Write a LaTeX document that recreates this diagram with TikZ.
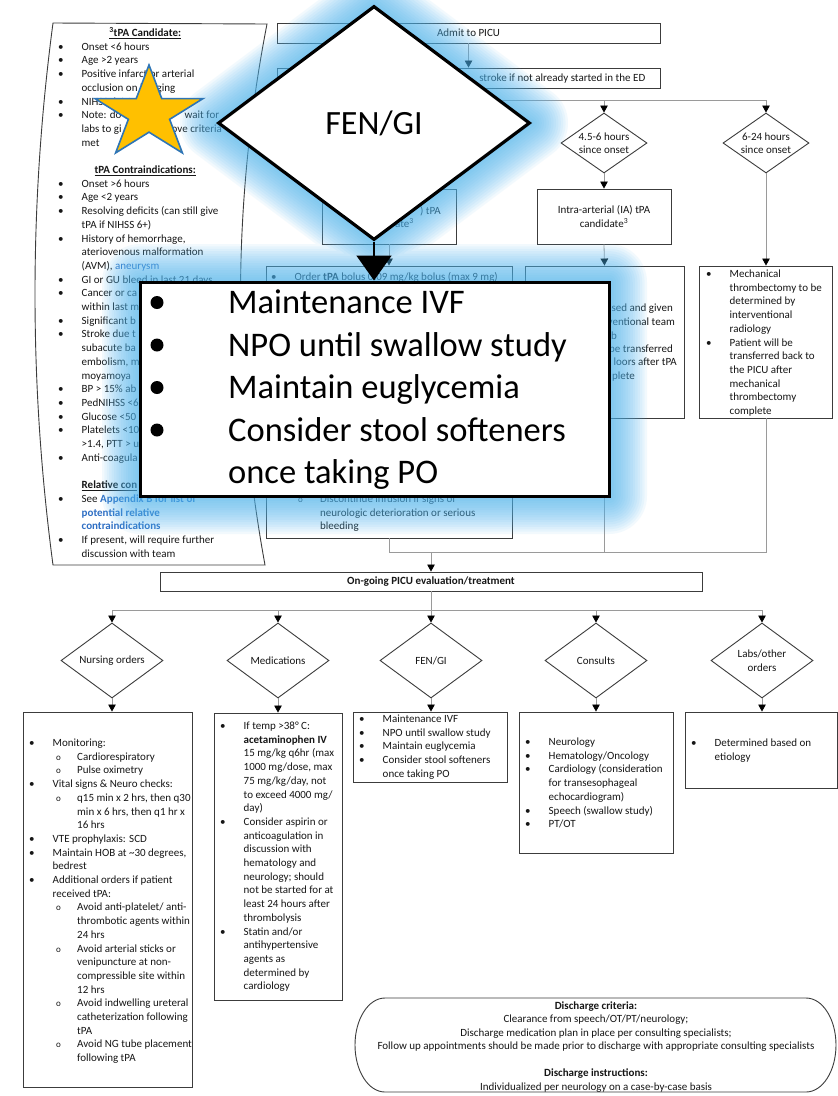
\documentclass[tikz,border=0pt]{standalone}
\usepackage{fontspec}
\setmainfont{Carlito}
\usetikzlibrary{arrows.meta,shapes.geometric}

\definecolor{boxline}{HTML}{3C3C3C}
\definecolor{linkgray}{HTML}{9A9A9A}
\definecolor{inktext}{HTML}{161616}
\definecolor{linkblue}{HTML}{2F6FC4}
\definecolor{glowblue}{RGB}{80,182,240}
\definecolor{staryellow}{HTML}{FFC000}
\definecolor{starblue}{HTML}{2E75B6}

% bullet list helpers (one tabular row per printed line)
\newlength\bgap
\setlength\bgap{23.5pt}
\newcommand\bitem[1]{\makebox[\bgap][l]{\textbullet}#1}
\newcommand\bcont[1]{\hspace*{\bgap}#1}
\newcommand\sitem[1]{\hspace*{27pt}\makebox[21pt][l]{\fontsize{9}{9}\selectfont o}#1}
\newcommand\scont[1]{\hspace*{48pt}#1}
\newcommand\txtlines[1]{\begin{tabular}[t]{@{}l@{}}#1\end{tabular}}

\tikzset{
  box/.style={draw=boxline, line width=0.9pt, fill=white, rectangle, inner sep=0pt,
              font=\fontsize{11}{13.5}\selectfont, text=inktext, align=center},
  choice/.style={draw=boxline, line width=0.9pt, fill=white, diamond, inner sep=0pt,
              font=\fontsize{11}{13.5}\selectfont, text=inktext, align=center},
  txt/.style={inner sep=0pt, anchor=base west, font=\fontsize{11}{13.7}\selectfont, text=inktext},
  conn/.style={draw=linkgray, line width=0.8pt},
  arr/.style={conn, -{Triangle[width=7.5pt,length=7pt,color=black]}},
}

\begin{document}
\begin{tikzpicture}[x=1pt,y=-1pt]
\useasboundingbox (0,0) rectangle (838,1096);
\fill[white] (0,0) rectangle (838,1096);

% ---------- side panel: tPA criteria ----------
\draw[draw=boxline, line width=0.9pt] (53,23) -- (267,24)
  .. controls (232,204) and (232,384) .. (265,565) -- (53,565)
  .. controls (29,384) and (29,204) .. (53,23) -- cycle;
\node[txt] (criteria) at (58,36.5) {\txtlines{%
\makebox[174pt]{\textbf{\underline{\textsuperscript{3}tPA Candidate:}}}\\
\bitem{Onset <6 hours}\\
\bitem{Age >2 years}\\
\bitem{Positive infarct or arterial}\\
\bcont{occlusion on imaging}\\
\bitem{NIHSS 6-24}\\
\bitem{\makebox[103pt][l]{Note: do}wait for}\\
\bcont{\makebox[90pt][l]{labs to gi}ove criteria}\\
\bcont{met}\\
\\
\makebox[174pt]{\textbf{\underline{tPA Contraindications:}}}\\
\bitem{Onset >6 hours}\\
\bitem{Age <2 years}\\
\bitem{Resolving deficits (can still give}\\
\bcont{tPA if NIHSS 6+)}\\
\bitem{History of hemorrhage,}\\
\bcont{ateriovenous malformation}\\
\bcont{(AVM), \textcolor{linkblue}{aneurysm}}\\
\bitem{GI or GU bleed in last 21 days}\\
\bitem{Cancer or ca}\\
\bcont{within last m}\\
\bitem{Significant b}\\
\bitem{Stroke due t}\\
\bcont{subacute ba}\\
\bcont{embolism, m}\\
\bcont{moyamoya}\\
\bitem{BP > 15\% ab}\\
\bitem{PedNIHSS <6}\\
\bitem{Glucose <50}\\
\bitem{Platelets <10}\\
\bcont{>1.4, PTT > u}\\
\bitem{Anti-coagula}\\
\\
\bcont{\textbf{\underline{Relative con}}}\\
\bitem{See \textcolor{linkblue}{\textbf{Appendix B for list of}}}\\
\bcont{\textcolor{linkblue}{\textbf{potential relative}}}\\
\bcont{\textcolor{linkblue}{\textbf{contraindications}}}\\
\bitem{If present, will require further}\\
\bcont{discussion with team}}};

% ---------- admission and time branches ----------
\node[box, minimum width=383pt, minimum height=20pt] (admit) at (468.5,33) {Admit to PICU};
\node[box, minimum width=383pt, minimum height=20pt] (ed) at (468.5,78) {};
\node[txt, anchor=base east] (edtext) at (645.5,81.5) {stroke if not already started in the ED};

\node[choice, minimum width=86pt, minimum height=60pt, aspect=1.43] (d45) at (604,143) {4.5-6 hours\\since onset};
\node[choice, minimum width=86pt, minimum height=60pt, aspect=1.43] (d624) at (766,143) {6-24 hours\\since onset};

\node[box, minimum width=134pt, minimum height=55pt] (ivcand) at (389,216.5) {};
\node[txt, anchor=base east] (ivcandA) at (441,214) {) tPA};
\node[txt, anchor=base east] (ivcandB) at (414,227.5) {ate\textsuperscript{3}};
\node[box, minimum width=134pt, minimum height=55pt] (iacand) at (604,216.5) {Intra-arterial (IA) tPA\\candidate\textsuperscript{3}};

\node[box, minimum width=246pt, minimum height=272pt] (ivdet) at (389,402) {};
\node[txt] (ivtop) at (271,280.5) {\bitem{Order \textbf{tPA} bolus 0.09 mg/kg bolus (max 9 mg)}};
\node[txt] (ivbottom) at (298,502.5) {\txtlines{%
\makebox[22pt][l]{\fontsize{9}{9}\selectfont o}Discontinue infusion if signs of\\
\hspace*{22pt}neurologic deterioration or serious\\
\hspace*{22pt}bleeding}};

\node[box, minimum width=159pt, minimum height=152pt] (iadet) at (604.5,342) {};
\node[txt, anchor=base east] (ia1) at (673,311.5) {sed and given};
\node[txt, anchor=base east] (ia2) at (675,325.5) {rventional team};
\node[txt, anchor=base east] (ia3) at (617,339.5) {ab};
\node[txt, anchor=base east] (ia4) at (673,352.5) {be transferred};
\node[txt, anchor=base east] (ia5) at (677,365.5) {loors after tPA};
\node[txt, anchor=base east] (ia6) at (635,379.5) {plete};

\node[box, minimum width=133pt, minimum height=152pt] (thromb) at (766,342) {};
\node[txt] (thrombtext) at (706,277.5) {\txtlines{%
\bitem{Mechanical}\\
\bcont{thrombectomy to be}\\
\bcont{determined by}\\
\bcont{interventional}\\
\bcont{radiology}\\
\bitem{Patient will be}\\
\bcont{transferred back to}\\
\bcont{the PICU after}\\
\bcont{mechanical}\\
\bcont{thrombectomy}\\
\bcont{complete}}};

\coordinate (s1) at (468.5,100);
\draw[arr] (admit.south) -- (ed.north);
\draw[conn] (ed.south) -- (s1) -- (d624.north |- s1);
\draw[arr] (d45.north |- s1) -- (d45.north);
\draw[arr] (d624.north |- s1) -- (d624.north);
\draw[arr] (d45.south) -- (iacand.north);
\draw[arr] (iacand.south) -- (iadet.north);
\draw[arr] (d624.south) -- (thromb.north);
\draw[arr] (ivcand.south) -- (ivdet.north);

% ---------- ongoing care ----------
\node[box, minimum width=542pt, minimum height=19pt, font=\fontsize{11}{13.5}\selectfont\bfseries] (ongoing) at (431,581.5) {On-going PICU evaluation/treatment};
\coordinate (m1) at (431,552);
\draw[conn] (ivdet.south) |- (thromb.south |- m1) -- (thromb.south);
\draw[conn] (iadet.south) -- (iadet.south |- m1);
\draw[arr] (m1) -- (ongoing.north);

\node[choice, minimum width=102pt, minimum height=75pt, aspect=1.36] (dnurse) at (112,660.5) {Nursing orders};
\node[choice, minimum width=102pt, minimum height=75pt, aspect=1.36] (dmeds) at (278,660.5) {Medications};
\node[choice, minimum width=102pt, minimum height=75pt, aspect=1.36] (dfen) at (431,660.5) {FEN/GI};
\node[choice, minimum width=102pt, minimum height=75pt, aspect=1.36] (dcons) at (596,660.5) {Consults};
\node[choice, minimum width=102pt, minimum height=75pt, aspect=1.36] (dlabs) at (762,660.5) {Labs/other\\orders};

\coordinate (s2) at (431,610);
\draw[conn] (ongoing.south) -- (s2);
\draw[conn] (dnurse.north |- s2) -- (dlabs.north |- s2);
\foreach \d in {dnurse,dmeds,dfen,dcons,dlabs}
  \draw[arr] (\d.north |- s2) -- (\d.north);

\node[box, minimum width=169pt, minimum height=375pt] (nurse) at (107.5,899.5) {};
\node[box, minimum width=128pt, minimum height=287pt] (meds) at (278,856.5) {};
\node[box, minimum width=154pt, minimum height=70pt] (fen) at (430,747) {};
\node[box, minimum width=154pt, minimum height=141pt] (cons) at (596,782.5) {};
\node[box, minimum width=152pt, minimum height=76pt] (labs) at (761,750) {};

\draw[arr] (dnurse.south) -- (dnurse.south |- nurse.north);
\draw[arr] (dmeds.south) -- (dmeds.south |- meds.north);
\draw[arr] (dfen.south) -- (dfen.south |- fen.north);
\draw[arr] (dcons.south) -- (dcons.south |- cons.north);
\draw[arr] (dlabs.south) -- (dlabs.south |- labs.north);

\node[txt] (nursetext) at (29,746.5) {\txtlines{%
\bitem{Monitoring:}\\
\sitem{Cardiorespiratory}\\
\sitem{Pulse oximetry}\\
\bitem{Vital signs \& Neuro checks:}\\
\sitem{q15 min x 2 hrs, then q30}\\
\scont{min x 6 hrs, then q1 hr x}\\
\scont{16 hrs}\\
\bitem{VTE prophylaxis: SCD}\\
\bitem{Maintain HOB at \textasciitilde30 degrees,}\\
\bcont{bedrest}\\
\bitem{Additional orders if patient}\\
\bcont{received tPA:}\\
\sitem{Avoid anti-platelet/ anti-}\\
\scont{thrombotic agents within}\\
\scont{24 hrs}\\
\sitem{Avoid arterial sticks or}\\
\scont{venipuncture at non-}\\
\scont{compressible site within}\\
\scont{12 hrs}\\
\sitem{Avoid indwelling ureteral}\\
\scont{catheterization following}\\
\scont{tPA}\\
\sitem{Avoid NG tube placement}\\
\scont{following tPA}}};

\node[txt] (medstext) at (220,729.5) {\txtlines{%
\bitem{If temp >38° C:}\\
\bcont{\textbf{acetaminophen IV}}\\
\bcont{15 mg/kg q6hr (max}\\
\bcont{1000 mg/dose, max}\\
\bcont{75 mg/kg/day, not}\\
\bcont{to exceed 4000 mg/}\\
\bcont{day)}\\
\bitem{Consider aspirin or}\\
\bcont{anticoagulation in}\\
\bcont{discussion with}\\
\bcont{hematology and}\\
\bcont{neurology; should}\\
\bcont{not be started for at}\\
\bcont{least 24 hours after}\\
\bcont{thrombolysis}\\
\bitem{Statin and/or}\\
\bcont{antihypertensive}\\
\bcont{agents as}\\
\bcont{determined by}\\
\bcont{cardiology}}};

\node[txt] (fentext) at (359,722.5) {\txtlines{%
\bitem{Maintenance IVF}\\
\bitem{NPO until swallow study}\\
\bitem{Maintain euglycemia}\\
\bitem{Consider stool softeners}\\
\bcont{once taking PO}}};

\node[txt] (constext) at (525,745.5) {\txtlines{%
\bitem{Neurology}\\
\bitem{Hematology/Oncology}\\
\bitem{Cardiology (consideration}\\
\bcont{for transesophageal}\\
\bcont{echocardiogram)}\\
\bitem{Speech (swallow study)}\\
\bitem{PT/OT}}};

\node[txt] (labstext) at (691,746.5) {\txtlines{%
\bitem{Determined based on}\\
\bcont{etiology}}};

% ---------- discharge terminator ----------
\draw[draw=boxline, line width=0.9pt] (385,998) -- (806,998)
  .. controls (822.6,998) and (836,1019) .. (836,1045)
  .. controls (836,1071) and (822.6,1092) .. (806,1092) -- (385,1092)
  .. controls (368.4,1092) and (355,1071) .. (355,1045)
  .. controls (355,1019) and (368.4,998) .. (385,998) -- cycle;
\node[inner sep=0pt, anchor=base, font=\fontsize{11}{13.45}\selectfont, text=inktext] (dischtext) at (596,1009.5)
  {\begin{tabular}[t]{@{}c@{}}
  \textbf{Discharge criteria:}\\
  Clearance from speech/OT/PT/neurology;\\
  Discharge medication plan in place per consulting specialists;\\
  Follow up appointments should be made prior to discharge with appropriate consulting specialists\\
  \\
  \textbf{Discharge instructions:}\\
  Individualized per neurology on a case-by-case basis
  \end{tabular}};

% ---------- highlighted FEN/GI callout ----------
\foreach \k in {1,...,16}
  \draw[glowblue, line width=\k*4.75pt, draw opacity=0.07, line join=round]
    (374,6) -- (530,123) -- (374,240) -- (218,123) -- cycle
    (140,282) rectangle (609,496);

\node[choice, draw=black, line width=3.2pt, minimum width=312pt, minimum height=234pt, aspect=1.33,
      font=\fontsize{34}{40}\selectfont, text=black] (bigdia) at (374,123) {FEN/GI};
\node[draw=black, line width=3pt, fill=white, minimum width=469pt, minimum height=214pt, inner sep=0pt] (callout) at (374.5,389) {};
\draw[black, line width=1.8pt, -{Triangle[width=35pt,length=25pt]}] (bigdia.south) -- (bigdia.south |- callout.north);

\node[inner sep=0pt, anchor=base west, font=\fontsize{34.5}{42.5}\selectfont, text=black] (callouttext) at (228,313.5)
  {\txtlines{Maintenance IVF\\ NPO until swallow study\\ Maintain euglycemia\\ Consider stool softeners\\ once taking PO}};
\foreach \yy in {302.5,345,387.5,430}
  \fill[black] (157,\yy) circle[radius=6.5pt];

% ---------- star marker ----------
\draw[fill=staryellow, draw=starblue, line width=1.6pt]
  (149,65) -- (161.75,98.58) -- (203.02,98.58) -- (169.64,119.34) -- (182.39,152.92)
  -- (149,132.17) -- (115.61,152.92) -- (128.36,119.34) -- (94.98,98.58) -- (136.25,98.58) -- cycle;
\end{tikzpicture}
\end{document}
